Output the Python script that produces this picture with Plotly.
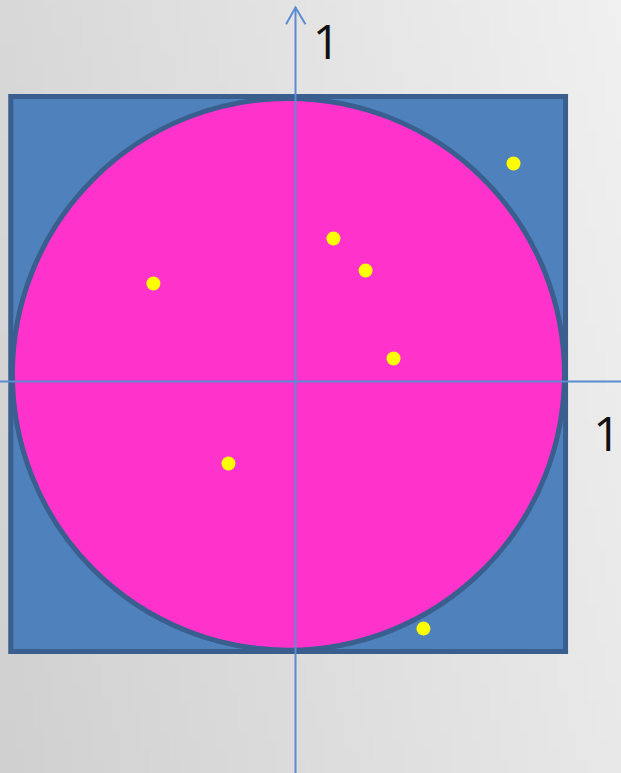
import base64, struct, zlib
import plotly.graph_objects as go

# ---- data (unit coordinates, origin at the axes crossing) ----
point_x = [0.787, 0.137, 0.253, -0.513, 0.354, -0.242, 0.462]
point_y = [0.787, 0.516, 0.401, 0.354, 0.083, -0.296, -0.892]
axis_labels = ["1", "1"]
label_x = [0.112, 1.1245]
label_y = [1.206, -0.206]
square_bounds = [-1.028, 0.975, -0.975, 1.029]   # x0, x1, y0, y1
circle_bounds = [-1.022, 0.971, -0.970, 1.022]

W, H = 621, 773
X_RANGE = [-1.0668, 1.1751]
Y_RANGE = [-1.4134, 1.3773]

# ---- background gradient image ----
def gradient_png(w, h):
    rows = []
    for j in range(h):
        v = j / (h - 1)
        row = bytearray()
        for i in range(w):
            u = i / (w - 1)
            val = int(round(216 + 24 * u - 8 * v))
            row.append(max(0, min(255, val)))
        rows.append(b"\x00" + bytes(row))
    raw = b"".join(rows)
    def chunk(t, d):
        c = struct.pack(">I", len(d)) + t + d
        return c + struct.pack(">I", zlib.crc32(t + d) & 0xffffffff)
    png = b"\x89PNG\r\n\x1a\n"
    png += chunk(b"IHDR", struct.pack(">IIBBBBB", w, h, 8, 0, 0, 0, 0))
    png += chunk(b"IDAT", zlib.compress(raw, 9))
    png += chunk(b"IEND", b"")
    return "data:image/png;base64," + base64.b64encode(png).decode()

bg = gradient_png(64, 80)

axis_col = "#5b8bd0"
fig = go.Figure()

fig.add_trace(go.Scatter(
    x=point_x, y=point_y, mode="markers",
    marker=dict(color="#ffff00", size=14, line=dict(width=0)),
    hoverinfo="skip", showlegend=False))

fig.add_trace(go.Scatter(
    x=label_x, y=label_y, mode="text", text=axis_labels,
    textfont=dict(family="Open Sans", size=48, color="#111111"),
    hoverinfo="skip", showlegend=False))

shapes = [
    dict(type="rect", xref="x", yref="y",
         x0=square_bounds[0], x1=square_bounds[1], y0=square_bounds[2], y1=square_bounds[3],
         fillcolor="#4f81bd", line=dict(color="#3a5f8f", width=5), layer="below"),
    dict(type="circle", xref="x", yref="y",
         x0=circle_bounds[0], x1=circle_bounds[1], y0=circle_bounds[2], y1=circle_bounds[3],
         fillcolor="#ff33cc", line=dict(color="#3a5f8f", width=5), layer="below"),
    # horizontal axis
    dict(type="line", xref="x", yref="y", x0=X_RANGE[0], x1=X_RANGE[1], y0=0, y1=0,
         line=dict(color=axis_col, width=2), layer="below"),
    # vertical axis with open arrowhead
    dict(type="line", xref="x", yref="y", x0=0, x1=0, y0=Y_RANGE[0], y1=1.350,
         line=dict(color=axis_col, width=2), layer="below"),
    dict(type="path", xref="x", yref="y",
         path="M -0.034,1.290 L 0,1.350 L 0.036,1.290",
         line=dict(color=axis_col, width=2), layer="below"),
]

fig.update_layout(
    width=W, height=H,
    margin=dict(l=0, r=0, t=0, b=0),
    paper_bgcolor="#e6e6e6", plot_bgcolor="rgba(0,0,0,0)",
    xaxis=dict(range=X_RANGE, visible=False, fixedrange=True),
    yaxis=dict(range=Y_RANGE, visible=False, fixedrange=True),
    shapes=shapes,
    images=[dict(source=bg, xref="paper", yref="paper", x=0, y=1,
                 sizex=1, sizey=1, xanchor="left", yanchor="top",
                 sizing="stretch", layer="below")],
    showlegend=False,
)

fig.write_html(
    "out.html",
    config={"displayModeBar": False},
    post_script="document.body.style.margin='0';document.body.style.overflow='hidden';",
)
